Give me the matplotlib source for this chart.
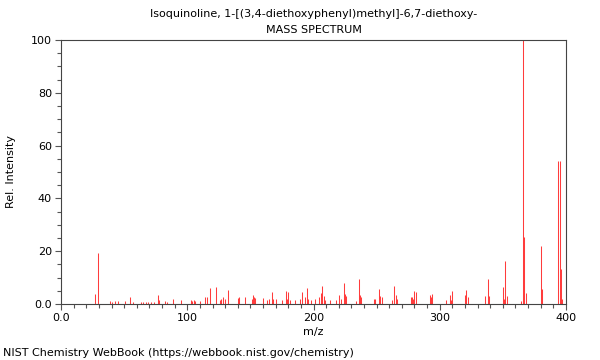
import matplotlib
matplotlib.use("Agg")
import matplotlib.pyplot as plt
from matplotlib.ticker import MultipleLocator, FixedFormatter, FixedLocator

title = "Isoquinoline, 1-[(3,4-diethoxyphenyl)methyl]-6,7-diethoxy-"

mz = [27, 29, 39, 40, 43, 45, 51, 55, 57, 63, 65, 67, 69, 71, 74,
      77, 78, 82, 84, 89, 95, 103, 104, 105, 106, 110, 114, 116, 118,
      123, 126, 127, 128, 130, 132, 140, 141, 146, 151, 152, 153, 154,
      160, 163, 165, 167, 168, 170, 175, 178, 179, 180, 181, 185,
      189, 191, 193, 195, 196, 198, 201, 204, 206, 207, 208, 209,
      213, 218, 220, 222, 224, 225, 226, 234, 236, 237, 238,
      248, 249, 252, 253, 254, 262, 264, 265, 266, 277, 278, 279, 280, 281,
      292, 293, 294, 305, 308, 309, 310, 320, 321, 322,
      336, 338, 339, 350, 351, 352, 353, 364, 366, 367, 368,
      380, 381, 394, 395, 396, 397]
intensity = [3.8, 19.5, 1.0, 0.8, 1.3, 1.0, 1.3, 2.8, 0.8, 0.7, 0.8, 0.7, 0.8, 0.7, 0.7,
             3.5, 1.5, 1.0, 0.9, 1.7, 1.5, 1.5, 1.2, 1.5, 1.3, 1.0, 2.5, 2.5, 6.0,
             6.6, 1.5, 2.0, 2.5, 1.8, 5.3, 2.3, 2.5, 2.7, 2.0, 3.5, 2.8, 2.2,
             2.4, 1.5, 2.0, 4.4, 2.0, 1.8, 1.5, 5.0, 2.0, 4.6, 1.5, 1.5,
             1.8, 4.7, 2.5, 6.0, 2.0, 1.5, 1.8, 2.5, 4.0, 7.0, 3.0, 1.5,
             1.5, 1.5, 3.4, 2.0, 8.0, 3.8, 3.0, 1.0, 9.5, 3.5, 2.5,
             2.0, 2.0, 5.8, 3.0, 2.8, 1.5, 7.0, 3.5, 2.0, 2.5, 2.5, 2.0, 4.8, 4.6,
             3.5, 2.5, 3.7, 1.5, 3.5, 1.5, 5.0, 3.5, 5.4, 2.5,
             3.0, 9.6, 3.0, 6.6, 2.0, 16.4, 3.0, 1.0, 100.0, 25.2, 4.0,
             22.0, 5.7, 54.3, 54.0, 13.3, 2.0]

fs = 8

fig = plt.figure(figsize=(6, 3.6), dpi=100)
ax = fig.add_axes([0.1017, 0.1556, 0.8416, 0.7333])

ax.vlines(mz, 0, intensity, color="#ff3c3c", linewidth=0.75)

ax.set_xlim(0, 400)
ax.set_ylim(0, 100)
ax.xaxis.set_major_locator(FixedLocator([0, 100, 200, 300, 400]))
ax.xaxis.set_major_formatter(FixedFormatter(["0.0", "100", "200", "300", "400"]))
ax.xaxis.set_minor_locator(MultipleLocator(10))
ax.yaxis.set_major_locator(FixedLocator([0, 20, 40, 60, 80, 100]))
ax.yaxis.set_major_formatter(FixedFormatter(["0.0", "20", "40", "60", "80", "100"]))
ax.yaxis.set_minor_locator(MultipleLocator(5))
ax.tick_params(which="major", length=4.5, width=0.8, color="#555555", labelsize=fs, pad=2)
ax.tick_params(which="minor", length=3, width=0.8, color="#555555")
for s in ax.spines.values():
    s.set_linewidth(0.8)
    s.set_color("#444444")

ax.set_xlabel("m/z", fontsize=fs, labelpad=3)
ax.set_ylabel("Rel. Intensity", fontsize=fs, labelpad=11)

fig.text(0.5225, 0.961, title, ha="center", va="center", fontsize=fs)
fig.text(0.5225, 0.917, "MASS SPECTRUM", ha="center", va="center", fontsize=fs)
fig.text(0.005, 0.019, "NIST Chemistry WebBook (https://webbook.nist.gov/chemistry)",
         ha="left", va="center", fontsize=fs)

fig.savefig("out.png", dpi=100)
